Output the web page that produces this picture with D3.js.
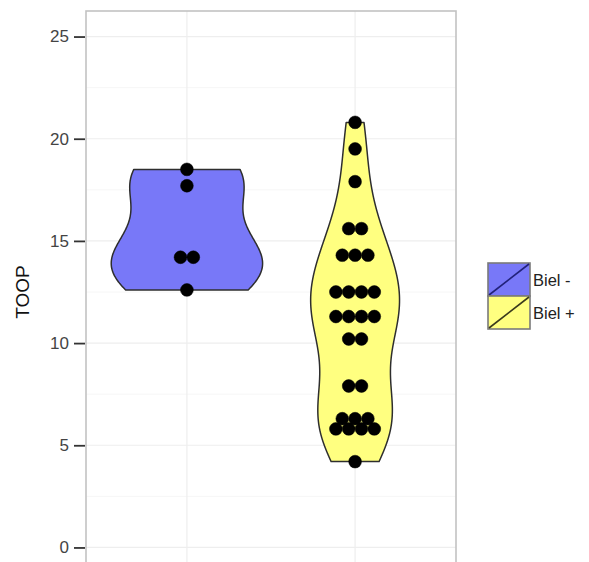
<!DOCTYPE html>
<html>
<head>
<meta charset="utf-8">
<script src="https://cdn.jsdelivr.net/npm/d3@7"></script>
<style>
  html, body { margin: 0; padding: 0; background: #fff; }
  svg { display: block; font-family: "Liberation Sans", Arial, sans-serif; }
</style>
</head>
<body>
<svg id="chart" width="589" height="562"></svg>
<script>
// ---- data ----
const categories = ["Biel -", "Biel +"];
const bielMinus = [18.5, 17.7, 14.2, 14.2, 12.6];
const bielPlus = [20.8, 19.5, 17.9, 15.6, 15.6, 14.3, 14.3, 14.3,
  12.5, 12.5, 12.5, 12.5, 11.3, 11.3, 11.3, 11.3, 10.2, 10.2,
  7.9, 7.9, 6.3, 6.3, 6.3, 5.8, 5.8, 5.8, 5.8, 4.2];
const yTicks = [0, 5, 10, 15, 20, 25];
const yMinorTicks = [2.5, 7.5, 12.5, 17.5, 22.5];
const yTitle = "TOOP";
const fills = ["#7878f8", "#ffff80"];
const keyLines = ["#22227a", "#3a3a1c"];

const groups = [bielMinus, bielPlus];

// ---- layout ----
const panel = { left: 86, right: 456, top: 11, bottom: 573 };
const svg = d3.select("#chart");

const y = d3.scaleLinear().domain([-1.25, 26.25]).range([panel.bottom, panel.top]);
const x = d3.scalePoint().domain(categories).range([panel.left, panel.right]).padding(0.6);

const clipId = "panelClip";
svg.append("defs").append("clipPath").attr("id", clipId)
  .append("rect").attr("x", panel.left).attr("y", panel.top)
  .attr("width", panel.right - panel.left).attr("height", panel.bottom - panel.top);

const g = svg.append("g").attr("clip-path", `url(#${clipId})`);

// grid
g.selectAll(".minor").data(yMinorTicks).enter().append("line")
  .attr("x1", panel.left).attr("x2", panel.right)
  .attr("y1", d => y(d)).attr("y2", d => y(d))
  .attr("stroke", "#f6f6f6").attr("stroke-width", 1);
g.selectAll(".major").data(yTicks).enter().append("line")
  .attr("x1", panel.left).attr("x2", panel.right)
  .attr("y1", d => y(d)).attr("y2", d => y(d))
  .attr("stroke", "#eeeeee").attr("stroke-width", 1.2);
g.selectAll(".vmajor").data(categories).enter().append("line")
  .attr("x1", d => x(d)).attr("x2", d => x(d))
  .attr("y1", panel.top).attr("y2", panel.bottom)
  .attr("stroke", "#eeeeee").attr("stroke-width", 1.2);

// ---- KDE (R nrd0 bandwidth, gaussian) ----
function quantile7(sorted, p) {
  const h = (sorted.length - 1) * p;
  const lo = Math.floor(h), hi = Math.ceil(h);
  return sorted[lo] + (h - lo) * (sorted[hi] - sorted[lo]);
}
function bwNrd0(v) {
  const s = v.slice().sort((a, b) => a - b);
  const sd = d3.deviation(v);
  const iqr = quantile7(s, 0.75) - quantile7(s, 0.25);
  let lo = Math.min(sd, iqr / 1.34);
  if (!(lo > 0)) lo = sd || Math.abs(s[0]) || 1;
  return 0.9 * lo * Math.pow(v.length, -0.2);
}
function kde(v, n) {
  const bw = bwNrd0(v);
  const mn = d3.min(v), mx = d3.max(v);
  const pts = [];
  for (let i = 0; i < n; i++) {
    const t = mn + (mx - mn) * i / (n - 1);
    let s = 0;
    for (const xi of v) {
      const z = (t - xi) / bw;
      s += Math.exp(-0.5 * z * z) / Math.sqrt(2 * Math.PI);
    }
    pts.push({ v: t, d: s / (v.length * bw) });
  }
  return pts;
}
const dens = groups.map(v => kde(v, 512));
const maxD = d3.max(dens, p => d3.max(p, q => q.d));
const halfWidth = 0.45 * x.step();
const w = d3.scaleLinear().domain([0, maxD]).range([0, halfWidth]);

dens.forEach((pts, i) => {
  const cx = x(categories[i]);
  const right = pts.map(p => [cx + w(p.d), y(p.v)]);
  const left = pts.slice().reverse().map(p => [cx - w(p.d), y(p.v)]);
  const path = d3.line()([...right, ...left]) + "Z";
  g.append("path").attr("d", path)
    .attr("fill", fills[i]).attr("stroke", "#2e2e2e").attr("stroke-width", 1.5)
    .attr("stroke-linejoin", "round");
});

// ---- dots (centered stacks) ----
const dotR = 6.4;
groups.forEach((v, i) => {
  const cx = x(categories[i]);
  const counts = d3.rollups(v, a => a.length, d => d);
  counts.forEach(([val, n]) => {
    for (let k = 0; k < n; k++) {
      g.append("circle")
        .attr("cx", cx + (k - (n - 1) / 2) * dotR * 2)
        .attr("cy", y(val))
        .attr("r", dotR)
        .attr("fill", "#000").attr("stroke", "#000").attr("stroke-width", 0.5);
    }
  });
});

// panel border
svg.append("rect")
  .attr("x", panel.left).attr("y", panel.top)
  .attr("width", panel.right - panel.left).attr("height", panel.bottom - panel.top)
  .attr("fill", "none").attr("stroke", "#c2c2c2").attr("stroke-width", 1.6);

// ---- y axis ----
const axis = svg.append("g").attr("transform", `translate(${panel.left - 1},0)`)
  .call(d3.axisLeft(y).tickValues(yTicks).tickSize(11).tickPadding(5));
axis.select(".domain").remove();
axis.selectAll(".tick line").attr("stroke", "#333").attr("stroke-width", 1.8);
axis.selectAll(".tick text").attr("fill", "#444").attr("font-size", 17)
  .attr("font-family", "Liberation Sans, Arial, sans-serif");

svg.append("text")
  .attr("transform", `translate(29,${(y(0) + y(25)) / 2}) rotate(-90)`)
  .attr("text-anchor", "middle")
  .attr("font-size", 19).attr("fill", "#111")
  .text(yTitle);

// ---- legend ----
const key = { x: 488, y: 263, w: 42, h: 33 };
categories.forEach((c, i) => {
  const ky = key.y + i * key.h;
  svg.append("rect").attr("x", key.x).attr("y", ky).attr("width", key.w).attr("height", key.h)
    .attr("fill", fills[i]).attr("stroke", "#7a7a7a").attr("stroke-width", 1.6);
  svg.append("line")
    .attr("x1", key.x + 1).attr("y1", ky + key.h - 1)
    .attr("x2", key.x + key.w - 1).attr("y2", ky + 1)
    .attr("stroke", keyLines[i]).attr("stroke-width", 1.6);
  svg.append("text").attr("x", key.x + key.w + 3).attr("y", ky + key.h / 2 + 6)
    .attr("font-size", 16.5).attr("fill", "#222").text(c);
});
</script>
</body>
</html>
